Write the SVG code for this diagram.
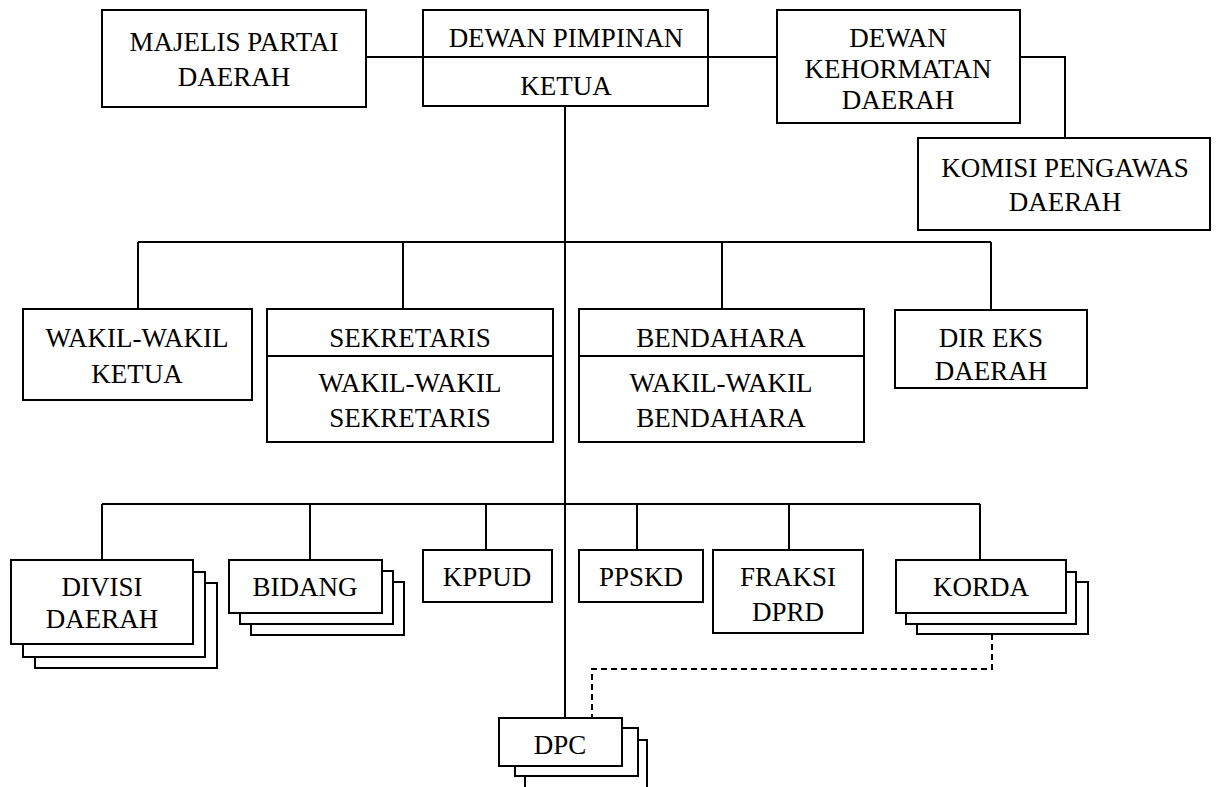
<svg xmlns="http://www.w3.org/2000/svg" width="1216" height="787" viewBox="0 0 1216 787">
  <style>
    .box { fill: #fff; stroke: #000; stroke-width: 2; }
    .ln { fill: none; stroke: #000; stroke-width: 2; }
    .dash { stroke-dasharray: 6 4; }
    text { font-family: "Liberation Serif", "Times New Roman", serif; font-size: 27px; fill: #000; text-anchor: middle; }
  </style>
  <rect width="1216" height="787" fill="#fff"/>

  <!-- connectors -->
  <g id="connectors">
    <!-- top row links -->
    <line class="ln" x1="366" y1="57" x2="423" y2="57"/>
    <line class="ln" x1="708" y1="57" x2="777" y2="57"/>
    <polyline class="ln" points="1020,57 1065,57 1065,138"/>
    <!-- main trunk -->
    <line class="ln" x1="565" y1="106" x2="565" y2="718"/>
    <!-- second level bus -->
    <line class="ln" x1="138" y1="242" x2="991" y2="242"/>
    <line class="ln" x1="138" y1="242" x2="138" y2="309"/>
    <line class="ln" x1="403" y1="242" x2="403" y2="309"/>
    <line class="ln" x1="722" y1="242" x2="722" y2="309"/>
    <line class="ln" x1="991" y1="242" x2="991" y2="310"/>
    <!-- third level bus -->
    <line class="ln" x1="102" y1="504" x2="980" y2="504"/>
    <line class="ln" x1="102" y1="504" x2="102" y2="560"/>
    <line class="ln" x1="310" y1="504" x2="310" y2="560"/>
    <line class="ln" x1="486" y1="504" x2="486" y2="550"/>
    <line class="ln" x1="637" y1="504" x2="637" y2="550"/>
    <line class="ln" x1="789" y1="504" x2="789" y2="550"/>
    <line class="ln" x1="980" y1="504" x2="980" y2="560"/>
    <!-- KORDA to DPC coordination line -->
    <polyline class="ln dash" points="992,634 992,669 592,669 592,718"/>
  </g>

  <!-- top row -->
  <g id="majelis">
    <rect class="box" x="102" y="10" width="264" height="97"/>
    <text x="234" y="51">MAJELIS PARTAI</text>
    <text x="234" y="86">DAERAH</text>
  </g>
  <g id="dewan-pimpinan">
    <rect class="box" x="423" y="10" width="285" height="96"/>
    <line class="ln" x1="423" y1="57" x2="708" y2="57"/>
    <text x="566" y="47">DEWAN PIMPINAN</text>
    <text x="566" y="95">KETUA</text>
  </g>
  <g id="dewan-kehormatan">
    <rect class="box" x="777" y="10" width="243" height="113"/>
    <text x="898" y="47">DEWAN</text>
    <text x="898" y="78">KEHORMATAN</text>
    <text x="898" y="109">DAERAH</text>
  </g>
  <g id="komisi-pengawas">
    <rect class="box" x="918" y="138" width="292" height="92"/>
    <text x="1065" y="177">KOMISI PENGAWAS</text>
    <text x="1065" y="211">DAERAH</text>
  </g>

  <!-- second row -->
  <g id="wakil-ketua">
    <rect class="box" x="23" y="309" width="229" height="91"/>
    <text x="137" y="347">WAKIL-WAKIL</text>
    <text x="137" y="383">KETUA</text>
  </g>
  <g id="sekretaris">
    <rect class="box" x="267" y="309" width="286" height="133"/>
    <line class="ln" x1="267" y1="356" x2="553" y2="356"/>
    <text x="410" y="347">SEKRETARIS</text>
    <text x="410" y="392">WAKIL-WAKIL</text>
    <text x="410" y="427">SEKRETARIS</text>
  </g>
  <g id="bendahara">
    <rect class="box" x="579" y="309" width="285" height="133"/>
    <line class="ln" x1="579" y1="356" x2="864" y2="356"/>
    <text x="721" y="347">BENDAHARA</text>
    <text x="721" y="392">WAKIL-WAKIL</text>
    <text x="721" y="427">BENDAHARA</text>
  </g>
  <g id="dir-eks">
    <rect class="box" x="895" y="310" width="192" height="78"/>
    <text x="991" y="347">DIR EKS</text>
    <text x="991" y="380">DAERAH</text>
  </g>

  <!-- third row -->
  <g id="divisi">
    <rect class="box" x="35" y="583" width="182" height="85"/>
    <rect class="box" x="23" y="572" width="182" height="85"/>
    <rect class="box" x="11" y="560" width="182" height="84"/>
    <text x="102" y="596">DIVISI</text>
    <text x="102" y="628">DAERAH</text>
  </g>
  <g id="bidang">
    <rect class="box" x="251" y="582" width="153" height="53"/>
    <rect class="box" x="240" y="571" width="153" height="53"/>
    <rect class="box" x="229" y="560" width="153" height="53"/>
    <text x="305" y="596">BIDANG</text>
  </g>
  <g id="kppud">
    <rect class="box" x="423" y="550" width="129" height="52"/>
    <text x="487" y="586">KPPUD</text>
  </g>
  <g id="ppskd">
    <rect class="box" x="579" y="550" width="124" height="52"/>
    <text x="641" y="586">PPSKD</text>
  </g>
  <g id="fraksi">
    <rect class="box" x="713" y="550" width="150" height="83"/>
    <text x="788" y="586">FRAKSI</text>
    <text x="788" y="621">DPRD</text>
  </g>
  <g id="korda">
    <rect class="box" x="917" y="582" width="171" height="52"/>
    <rect class="box" x="906" y="572" width="170" height="52"/>
    <rect class="box" x="896" y="560" width="170" height="53"/>
    <text x="981" y="596">KORDA</text>
  </g>

  <!-- bottom -->
  <g id="dpc">
    <rect class="box" x="525" y="740" width="122" height="60"/>
    <rect class="box" x="515" y="728" width="123" height="48"/>
    <rect class="box" x="499" y="718" width="123" height="48"/>
    <text x="560" y="754">DPC</text>
  </g>
</svg>
